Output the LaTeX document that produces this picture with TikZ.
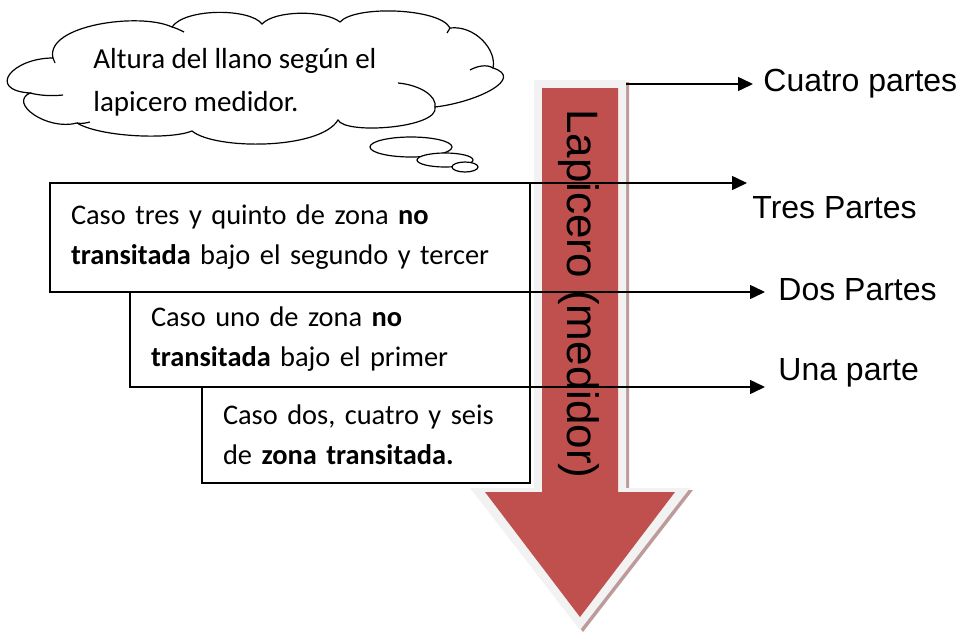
\documentclass[tikz,border=0pt]{standalone}
\usepackage{fontspec}
\setmainfont{Carlito}
\newfontfamily\arialfont{Liberation Sans}
\usetikzlibrary{arrows.meta,positioning}

\definecolor{lapiz}{HTML}{C0504D}
\definecolor{borde}{HTML}{F2F2F2}
\definecolor{sombra}{HTML}{BE9A9A}

\tikzset{
  basic/.style  = {draw, line width=0.75pt, rectangle, outer sep=0pt},
  caso/.style   = {basic, align=left, inner xsep=10.5pt, inner ysep=0pt,
                   anchor=north west, font=\fontsize{14.2}{20}\selectfont},
  parte/.style  = {anchor=west, inner sep=0pt, font=\arialfont\fontsize{16}{19}\selectfont},
  nube/.style   = {draw, line width=0.6pt},
  flecha/.style = {-{Triangle[length=7.5pt,width=7pt]}, line width=0.75pt}
}

\begin{document}
\begin{tikzpicture}[x=0.5pt, y=-0.5pt]
\useasboundingbox (0,0) rectangle (959,632);

% the cloud, puff by puff
\draw[nube, fill=white] (53,58)
  .. controls (12,58) and (-14,90) .. (30,93)
  .. controls (8,103) and (47,131) .. (77,123)
  .. controls (100,137) and (170,140) .. (192,131)
  .. controls (215,150) and (320,150) .. (338,120)
  .. controls (345,135) and (440,128) .. (435,107)
  .. controls (478,102) and (525,78) .. (493,68)
  .. controls (497,50) and (475,25) .. (450,28)
  .. controls (440,8) and (355,5) .. (340,22)
  .. controls (325,10) and (275,10) .. (262,24)
  .. controls (250,8) and (185,8) .. (172,27)
  .. controls (140,12) and (45,25) .. (53,58) -- cycle;
% inner ends of the puffs
\draw[nube] (30,93) .. controls (42,96) and (53,96) .. (63,95);
\draw[nube] (77,123) .. controls (82,124) and (86,123) .. (90,122);
\draw[nube] (435,107) .. controls (437,96) and (420,85) .. (398,83);
\draw[nube] (493,68) .. controls (487,64) and (477,66) .. (470,70);
\draw[nube] (172,27) .. controls (176,28) and (180,30) .. (184,32);
\draw[nube] (53,58) -- (55,63);
\draw[nube] (450,28) -- (447,33);
\node[anchor=west, align=left, inner sep=0pt, font=\fontsize{14.5}{21.5}\selectfont]
  (nubetxt) at (93,82) {Altura del llano según el\\lapicero medidor.};
\foreach \x/\y/\rx/\ry in {411/147/41/10, 445/160/28/7, 465/167/13/5}
  \draw[nube, fill=white] (\x,\y) ellipse [x radius=\rx, y radius=\ry];

% the pencil arrow
\fill[sombra, xshift=1.5pt, yshift=-1pt] (534,80) -- (626,80) -- (626,488) -- (690,488)
  -- (580,630) -- (470,488) -- (534,488) -- cycle;
\fill[borde] (534,80) -- (626,80) -- (626,488) -- (690,488)
  -- (580,630) -- (470,488) -- (534,488) -- cycle;
\fill[lapiz] (542,88) -- (618,88) -- (618,492) -- (675,492)
  -- (580,617) -- (485,492) -- (542,492) -- cycle;
\node[rotate=-90, inner sep=0pt, font=\arialfont\fontsize{22}{26}\selectfont]
  (lap) at (579,294) {Lapicero (medidor)};

% the cases, stacked boxes
\begin{scope}[every node/.style={caso}]
\node[text width=219pt, minimum height=54.5pt] (c1) at (50,183)
  {Caso tres y quinto de zona \textbf{no}\\\textbf{transitada} bajo el segundo y tercer\\[4pt]};
\node[below=0pt of c1.south west, anchor=north west, xshift=40pt,
      text width=179pt, minimum height=47.5pt] (c2)
  {Caso uno de zona \textbf{no}\\\textbf{transitada} bajo el primer};
\node[below=0pt of c2.south west, anchor=north west, xshift=36pt,
      text width=143pt, minimum height=48pt] (c3)
  {Caso dos, cuatro y seis\\de \textbf{zona transitada.}};
\end{scope}

% the parts
\begin{scope}[every node/.style={parte}]
\node (p4) at (763,84) {Cuatro partes};
\node (p3) at (752,208) {Tres Partes};
\node (p2) at (778,290) {Dos Partes};
\node (p1) at (778,373) {Una parte};
\end{scope}

\coordinate (s4) at (626,84);
\coordinate (t4) at (753,84);
\coordinate (t3) at (747,183);
\coordinate (t2) at (765,292);
\coordinate (t1) at (765,387);

\draw[flecha] (s4) -- (t4);
\draw[flecha] (c1.north east) -- (t3);
\draw[flecha] (c1.south east) -- (t2);
\draw[flecha] (c2.south east) -- (t1);

\end{tikzpicture}
\end{document}
